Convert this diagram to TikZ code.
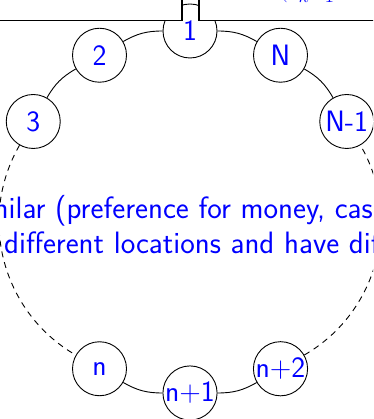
\documentclass[tikz,border=0pt]{standalone}
\usepackage{fontspec}
\begin{document}
\begin{tikzpicture}[x=1pt,y=1pt,
  ringnode/.style={circle, draw, line width=0.9pt, fill=white, minimum size=54pt, inner sep=0pt,
    font=\sffamily\fontsize{29.5}{35}\selectfont, text=blue},
  link/.style={line width=0.9pt},
  dlink/.style={line width=0.9pt, dash pattern=on 6pt off 5pt},
  midtext/.style={inner sep=0pt, font=\sffamily\fontsize{30.9}{36}\selectfont, text=blue},
  boxline/.style={line width=1.2pt}]
\useasboundingbox (0,0) rectangle (373,419);
\clip (0,0) rectangle (373,419);
\begin{scope}[shift={(190,207)}]
  \node[ringnode] (a1)  at (90:181)  {1};
  \node[ringnode] (a2)  at (120:181) {2};
  \node[ringnode] (a3)  at (150:181) {3};
  \node[ringnode] (aN)  at (60:181)  {N};
  \node[ringnode] (aN1) at (30:181)  {N-1};
  \node[ringnode] (bn)  at (240:181) {n};
  \node[ringnode] (bn1) at (270:181) {n+1};
  \node[ringnode] (bn2) at (300:181) {n+2};
\end{scope}
\draw[link] (a1) to[bend right=15] (a2);
\draw[link] (a2) to[bend right=15] (a3);
\draw[dlink] (a3) to[bend right=45] (bn);
\draw[link] (bn) to[bend right=15] (bn1);
\draw[link] (bn1) to[bend right=15] (bn2);
\draw[dlink] (bn2) to[bend right=45] (aN1);
\draw[link] (aN1) to[bend right=15] (aN);
\draw[link] (aN) to[bend right=15] (a1);
% top box
\fill[white] (-2,398.5) rectangle (182,425);
\fill[white] (199,398.5) rectangle (375,425);
\draw[boxline] (-2,398.5) -- (182,398.5) -- (182,425);
\draw[boxline] (199,425) -- (199,398.5) -- (375,398.5);
\node[inner sep=0pt, text=blue, font=\fontsize{28}{32}\selectfont, anchor=base west] (frm) at (279,422) {$\left(\sum_{k=1}\right.$};
% middle text
\node[midtext, anchor=base west] (t1) at (-32.5,200) {similar (preference for money, cash};
\node[midtext, anchor=base west] (t2) at (4,165) {different locations and have different};
\end{tikzpicture}
\end{document}
